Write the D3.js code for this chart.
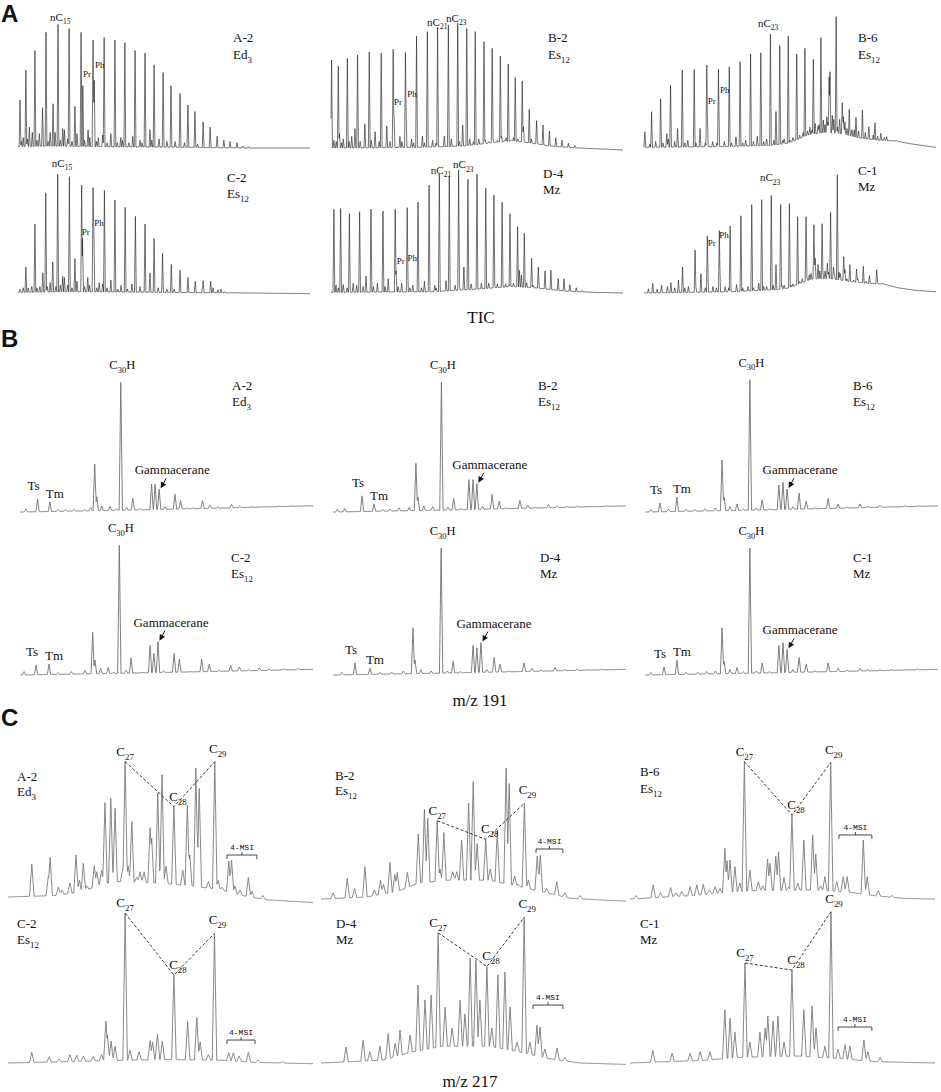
<!DOCTYPE html>
<html>
<head>
<meta charset="utf-8">
<script src="https://cdn.jsdelivr.net/npm/d3@7"></script>
<style>
body { margin: 0; background: #fff; }
text { font-family: "Liberation Serif", "Times New Roman", serif; fill: #111; }
.letter { font-family: "Liberation Sans", Arial, sans-serif; font-weight: bold; }
.msi { font-family: "Liberation Mono", monospace; }
</style>
</head>
<body>
<svg id="fig" width="941" height="1092"></svg>
<script>
// sample order: top row then bottom row of each block
var samples = ["A-2", "B-2", "B-6", "C-2", "D-4", "C-1"];
var units = [["Ed", "3"], ["Es", "12"], ["Es", "12"], ["Es", "12"], ["Mz", ""], ["Mz", ""]];
var blockLetters = ["A", "B", "C"];
var blockTitles = ["TIC", "m/z 191", "m/z 217"];

// ---- TIC: n-alkanes [retention %, abundance %]
var ticAlkanes = [
  [[0.7,37],[2.7,60],[5.8,75],[9.6,89],[13.7,95],[17.5,92],[21.6,89],[25.7,83],[29.5,85],[33.2,83],[36.6,81],[40.1,75],[43.5,73],[46.6,64],[49.7,58],[52.4,48],[55.5,42],[58.2,33],[60.6,28],[63.4,20],[65.8,16],[68.2,9],[70.5,6],[72.6,5],[75,4],[77,1.5],[79,1]],
  [[0.2,67.7],[2.5,63],[5.6,69],[9.1,71.5],[13.1,74],[17.2,73],[21.3,76],[25.5,73.5],[29.3,86],[33,89.5],[36.5,93],[40.2,94.6],[43.4,96],[46.5,92],[49.4,89.5],[52.4,81.8],[55.2,76.7],[58,70.8],[60.7,64.6],[63.1,54.4],[65.5,51.5],[67.9,29.8],[70.4,21],[72.6,17.7],[74.8,13],[77,8],[79.1,6],[81.3,3.6],[83.5,2]],
  [[0.3,12.5],[2.6,28],[5.7,37.7],[9.1,48.5],[13.1,60],[17.2,60.5],[21.5,63.8],[25.5,60.8],[29.2,62.5],[32.9,66.4],[36.5,72.3],[40,73.3],[43.3,87.7],[46.5,79],[49.4,86],[52.3,72.3],[55.1,76.7],[58,68.2],[60.6,85],[63.4,54.8],[63.7,58.7],[65.8,101],[67.9,34.8],[70.3,29.8],[72.6,23.6],[74.8,29.2],[77,16.4],[79.1,19.5],[81.1,11.3],[83.1,8.7],[85.3,4],[88,3]],
  [[0.7,3],[2.7,20],[5.8,53],[9.5,77],[13.6,91.5],[17.6,89.5],[21.8,83],[25.7,81],[29.6,79],[33.2,71.5],[36.7,66],[40.2,59],[43.5,53],[46.6,42],[49.5,30.5],[52.5,22],[55.5,17.5],[58.2,12],[60.7,9],[63.4,9.5],[66,9],[68.5,2.5],[70.8,1]],
  [[1,64.5],[3.3,65],[6.3,61],[9.8,62.5],[13.7,64.5],[17.8,63],[22,64.5],[26.1,65.6],[29.8,70],[33.6,83],[37.1,91.5],[40.5,90],[43.7,94.6],[46.9,87.5],[50,91.5],[53,80.5],[55.8,75.4],[58.6,69.8],[61.3,61],[63.9,51],[66.2,46],[68.7,26.7],[71,20],[73.3,17],[75.3,17.5],[77.8,11],[79.8,11],[81.8,6.5],[84,4],[86,2]],
  [[3,7.5],[6,6],[9.2,8],[13.2,20],[17.5,33],[21.7,44],[25.8,48],[29.5,51.6],[33.2,59.4],[36.9,68],[40.3,71.8],[43.6,75],[46.8,68],[49.8,68.7],[52.6,58.7],[55.5,58.7],[58.2,52.5],[61,53.3],[63.9,62],[66.2,91],[68.4,28],[70.5,21.8],[72.8,18.4],[75.1,20.5],[77.2,13.3],[79.7,18],[81.6,7.5],[84,4.5],[87.5,3.5]]
];
// pristane, phytane
var ticIso = [
  [[22.2,48],[26.1,52]],
  [[21.6,25],[25.7,31.5]],
  [[21.7,26.7],[25.6,34.4]],
  [[22.1,42],[26,47]],
  [[22.3,17],[26.2,21]],
  [[21.8,23],[25.9,28]]
];
// minor peaks
var ticMinor = [
  [[1.2,5],[1.8,8],[3.2,7],[3.9,16],[4.9,12],[6.5,6],[7.3,11],[8.4,31],[10.3,5],[11,12],[12,34],[12.7,12],[14.5,6],[15.3,15],[15.9,14],[17,7],[18.5,5],[19.5,32],[20.2,11],[22.8,6],[24,14],[24.6,8],[26.8,5],[27.5,8],[29,10],[30.5,4],[31.8,11],[34,4],[35.2,8],[35.8,6],[38,4],[39.3,9],[41.8,6],[42.5,4],[45.2,14],[45.8,6],[48.3,7],[51,5],[53.8,5],[57,4],[61.5,3]],
  [[1,6],[1.8,5],[2.9,11],[3.6,4],[4.2,7],[6.2,5],[7.1,9],[8.2,15],[10,5],[11.6,18.5],[13.8,6],[15.1,12.5],[16.5,5],[19.1,17],[20.2,5],[23.6,9],[24.3,5],[27.6,7],[28.3,4],[31.3,9],[32,4],[34.8,6],[36,4],[38.8,9],[41.2,7],[44,5],[45.1,17.7],[47.5,7],[48.8,5],[50.6,7],[52.8,6],[54,5],[55.5,7],[57,6],[58.4,9],[59.5,6],[60,8],[61.8,6],[62.5,8],[64,7],[65.9,16.4],[68.6,7],[70.8,4]],
  [[2,3],[4,5],[6.5,4],[7.8,11],[8.3,7],[10.5,5],[11.5,15],[14,4],[15,6],[17.8,4],[19.2,15],[21,4],[23.5,5],[25,4],[27.5,5],[30,4],[31.5,8.7],[33.8,4],[34.8,6],[37.5,5],[38.8,9],[41,5],[42,7],[44.5,6],[45.2,28],[47.5,6],[48,7],[50,6],[51,8],[53.3,10],[54.5,12],[56,13],[56.8,16],[57.5,14],[58.6,19],[59.6,17],[60,18],[61.4,21.5],[62,18],[62.6,24],[63,20],[64.5,25],[65,22],[66.3,16],[67,22],[68.3,24],[68.8,20],[69.5,15],[71.2,14],[72,14],[73.5,13],[75.8,12],[78.5,10],[80,9],[82.3,8],[86.5,6]],
  [[1.8,4],[3.5,4],[4.7,5],[6.5,4],[7.5,5],[8.5,15.5],[10,5],[11,8],[11.9,24],[13,5],[14.5,6],[15.3,13],[15.9,12],[17,6],[18.5,4],[19.5,26.5],[20.2,9],[22.8,5],[23.9,12],[24.5,6],[27,4],[27.8,8],[29,7],[30.5,4],[31.8,10],[34.2,3],[35.3,6],[37.5,3],[39,7],[41.8,5],[45.2,15.5],[48,4],[51,3],[53.5,3],[63.2,5],[66.8,4],[69.5,3]],
  [[1.7,6],[2.5,4],[4.2,6.5],[5.5,4],[7.6,7.5],[8.8,6],[11,5],[12,13],[14.5,5],[15.9,7.5],[18.5,5],[19.6,11],[23,5],[24.2,7.5],[27,4],[28,6],[31,4],[32,9],[35.5,6],[36,4],[39.4,9.5],[42.5,6],[44,5],[45.5,20],[48,7],[50,6],[51.5,7.5],[54,7.5],[56,6],[57,7],[59.8,7],[60.8,6],[62.5,7.5],[64.5,17.5],[65.2,14],[67,8],[69.2,6]],
  [[1.5,3],[4.5,3],[8,5],[10.5,4],[11.8,10],[14,4],[15.2,5],[17.8,4],[19.5,15],[21,4],[23.6,5],[24.8,4],[27.8,5],[29,4],[31.7,6.5],[33.8,4],[35.6,5],[37.5,4],[39.3,7.5],[41,5],[42,5],[44.2,6],[45.2,21.8],[47.2,6],[48,6],[50.3,6],[51,7],[53.3,9],[54.2,11],[55.8,12],[56.6,14],[57.2,15],[58.6,26.7],[59.6,22],[60.2,17],[61.2,18],[62,17],[62.8,23],[63.2,16],[64.9,20],[65.2,15],[66.8,16],[67.2,15],[68.8,18],[69.5,11],[70.5,13],[71.8,10],[73.2,11],[76,9],[80,8],[83,6]]
];
var ticBase = [
  [[0,1],[10,1.5],[30,1],[60,0.5],[80,0],[100,0]],
  [[0,0],[30,0.5],[45,1.5],[55,4],[62,5.5],[68,4],[75,1.5],[85,0],[100,-1.5]],
  [[0,0.5],[25,1],[43,2],[49,3.5],[53,7],[56,10],[62,12],[68,11],[73,8],[80,6],[86,5.5],[92,3],[100,0.5]],
  [[0,0.5],[20,1],[50,0.5],[80,0],[100,-0.5]],
  [[0,0.5],[35,1],[50,3],[62,5],[70,4],[80,1.5],[90,0.5],[100,0]],
  [[0,0],[30,1],[45,2.5],[50,4],[54,8],[58,11],[64,11],[70,9],[76,7.5],[82,7],[87,4],[93,2],[100,1]]
];
// labelled n-alkanes: [name, carbon number, label retention, label abundance]
var ticNc = [
  [["nC", "15", 11, 97.7]],
  [["nC", "21", 32.9, 93.8], ["nC", "23", 39.4, 97]],
  [["nC", "23", 39, 93]],
  [["nC", "15", 11.6, 97]],
  [["nC", "21", 34.2, 91.5], ["nC", "23", 41.8, 96]],
  [["nC", "23", 39.7, 86]]
];
var ticPrPh = [
  [[22.3,54.6],[26.4,61.5]],
  [[21.6,33],[26.1,39.5]],
  [[21.8,33.8],[26,42.3]],
  [[21.8,44.6],[26.1,51.5]],
  [[22.5,22.3],[26.2,24.6]],
  [[21.8,36],[25.8,42.5]]
];

// ---- m/z 191 terpanes
var hopPeaks = [
  [[2,2.2],[6,9.4],[10.2,7.4],[13,1.8],[15.5,1.8],[18.4,2],[22,1.8],[24.1,3.2],[25.5,35.5],[26.2,11.3],[27.9,4.5],[30.7,4],[33,2.2],[34.4,96],[36.4,3.5],[38.5,10.1],[41,2.5],[44.9,20.7],[46.1,20.7],[47.5,16.8],[49.5,4],[52.9,13.1],[54.8,8.4],[57,3],[59,3],[62.3,8.4],[64.8,5.2],[67.5,4],[72.2,5.7],[75,4.4],[79,3.8],[82.3,3.9],[85,4],[88.5,4.3],[93,4.6],[97,4.8]],
  [[1.5,2],[4,2.5],[9.9,12],[14,6],[17,2],[19.5,2.2],[22.5,3],[26,3.5],[28.3,36],[29,11],[31,4.5],[34,4],[37,96],[39.2,3.5],[41.2,10],[43.5,2.5],[46.4,24],[47.8,24],[49.1,21],[51,4],[54.3,13],[56.7,8],[59,3],[63.8,8.5],[66.5,5],[69,3.5],[73.5,5.5],[76.5,4.5],[80,4],[83.5,4.5],[88,4],[93,4.5]],
  [[2,2],[5.1,6.7],[8,2],[10.9,11],[14,2],[17,2],[20.5,2.5],[24,3],[26.3,38.5],[27,11],[29,4],[31.4,6],[33.5,2.5],[35.8,98],[38,3],[40,9],[42.5,2.5],[45.7,20],[47.1,22],[48.5,17],[50.5,4],[52.6,14],[55,8],[58,3],[62.5,10],[65.9,6],[69,3.5],[73.4,6],[76,4],[80.2,5],[84,4],[88.7,4.5],[93,4.5]],
  [[1.4,2.5],[5.5,7.4],[9.9,8],[13,1.8],[17.5,2.5],[22.2,3.5],[24.8,31.6],[25.6,11],[27.5,5],[30.1,5.5],[32,2],[33.9,96],[36.2,3.5],[37.9,12.8],[42,2],[44.4,22],[45.7,16],[47.1,24.7],[49,3],[52.6,16],[54.4,11.6],[58,2.5],[62,11.6],[64.6,8],[68,3.5],[71.9,7.4],[74.9,6],[78,4],[81.7,5.4],[85,4.5],[90,4.5],[95,4.8]],
  [[3,2],[7.5,9],[12.6,5],[16,2],[20,2.2],[24,3],[27.3,35],[28,11],[30,4],[33.5,3],[36.9,94],[39,3],[41,10],[43.5,2.5],[47.8,22],[49.1,20],[50.5,24],[52.5,4],[55,13],[57,8],[60,3],[65.2,9],[67.9,5],[71,3.5],[75.8,5.5],[79,4],[83.3,4.5],[87,4],[91.5,4.5]],
  [[2,2],[6.5,6],[10.9,11],[14,2],[18,2],[21,2.5],[24,3],[26.3,35],[27,10],[29,4],[31.4,5.5],[33.5,2.5],[35.8,94],[38,3],[40,9],[42.5,2.5],[45.7,22],[47.1,24],[48.5,19],[50.5,4],[52.6,13],[55,8],[58,3],[62.5,9],[65.9,5],[69,3.5],[73.4,5],[76,4],[80.2,4],[84,4],[88.7,4],[93,4.5]]
];
var hopBase = [
  [[0,0],[40,1.5],[70,3],[100,4.6]],
  [[0,0],[40,1.5],[70,3],[100,4.5]],
  [[0,0],[40,1.5],[70,3],[100,4.5]],
  [[0,0],[40,1.5],[70,2.8],[100,4.2]],
  [[0,0],[40,1.5],[70,2.8],[100,4.2]],
  [[0,0],[40,1.5],[70,2.8],[100,4.2]]
];
// retention of Ts, Tm, C30 hopane, gammacerane
var hopTs = [6, 9.9, 5.1, 5.5, 7.5, 6.5];
var hopTm = [10.2, 14, 10.9, 9.9, 12.6, 10.9];
var hopC30 = [34.4, 37, 35.8, 33.9, 36.9, 35.8];
var hopGam = [47.5, 49.1, 48.5, 47.1, 50.5, 48.5];

// ---- m/z 217 steranes
var sterPeaks = [
  [[7.8,23.6],[13.2,14.5],[13.8,28.4],[16.5,7],[17.7,5],[20.3,10],[22.3,30],[23.4,12],[24.7,24],[25.8,8],[28.3,22.4],[29.1,18],[30.7,19],[31.8,67.4],[33.7,70.5],[35.1,63.4],[37.6,20],[38.4,96.7],[39.4,22],[40.6,53.8],[42.2,14],[43.3,18],[44.6,18],[46.6,49.5],[47.1,42],[49.1,74],[50.5,87.4],[51.8,22],[54.4,64.5],[57.3,19],[58.8,65.7],[59.6,30],[61.6,92],[62.7,77.6],[65.7,11],[67.8,96.7],[68.9,12],[70.2,7],[72.4,25.7],[73.3,26.4],[74.4,8],[76.1,5],[78.8,14],[80,4],[83.6,1]],
  [[4,3],[8.6,13.3],[11,6],[14.4,21.7],[17.5,5],[19.5,12],[20.5,9],[22.6,24.8],[24.2,16],[25,17.4],[28.3,17.6],[31.9,45],[33.9,62.6],[35,56.2],[38.1,54.5],[39,20],[40.3,46],[43.2,18],[44.5,18],[46.1,40.7],[48.4,67],[49.9,82.4],[51.2,38.3],[54,41.2],[55.5,20],[57.8,47.9],[60.7,92],[61.7,81],[63.5,15],[64.7,9],[66.7,67],[68,12],[70.9,29.3],[71.9,29.8],[74,6],[77.3,11],[80,3],[85,1]],
  [[2,1],[7.6,8.6],[10,3],[13.3,6.7],[15,3],[17,4],[19.7,7.4],[21.9,8.6],[24,9],[26,5],[27.9,7.4],[29.5,6],[31.1,34.8],[31.8,26],[32.8,26.4],[34.4,21.7],[36,10],[37.5,96.7],[39.3,19.3],[42.1,11],[43.5,8],[45.1,27],[45.9,24],[47.8,29.3],[48.7,32.4],[50.5,14],[52,7],[53.1,58.6],[55,10],[57,40.7],[59.9,44.3],[60.9,30.7],[62.5,8],[63.9,14.5],[65.8,96],[67.8,11],[69.9,14.5],[71.2,14.5],[76.5,40.7],[77.8,14.5],[81.4,4.5],[86,1]],
  [[7.8,7.6],[13.5,4.5],[16.8,3],[20.3,6],[22.5,5.5],[24.7,5],[27.9,4.5],[30.7,6],[32.1,30],[32.6,20],[33.8,15.7],[35.1,12],[38.4,107],[40,9],[43,8],[46.6,16],[47.4,15],[49,20.7],[50.6,15.7],[54.4,62.9],[58.9,29.5],[61.9,32.6],[63,15.2],[65.7,6],[67.7,92.6],[72.4,7.3],[73.9,7.3],[75.8,5],[78.8,7.6],[82,2],[90,1]],
  [[8.2,11.4],[13.8,16.4],[16,8],[19.3,12],[22,21],[24.3,14],[25.9,23.6],[29.2,20],[31.8,55.7],[34.1,45],[36.1,48.6],[38.4,93],[40.7,40],[43,25],[45.6,45],[47.2,35],[48.9,75],[50.8,73.6],[52.1,45],[54.4,69],[56,25],[58,63],[60.3,65],[62,40],[64.3,15],[66.6,104],[68.5,15],[70.8,27],[71.8,25.7],[73.4,10],[77.4,10.7],[80,4]],
  [[7.5,9],[13.8,7],[19.7,7],[23,8],[26.2,8],[31.1,38],[32.8,32],[34.4,22],[37.7,71.4],[39.3,15],[42.6,22],[44.3,25],[45.2,33.6],[46.9,30],[48.5,33.6],[50.5,15],[53.1,66.4],[57,38],[59.7,40.7],[61,25],[63.9,12],[65.9,108],[68.2,10],[70.5,13],[72.1,12],[76.7,16.4],[78,8],[82,4]]
];
var sterBase = [
  [[0,0],[15,1],[25,4],[30,9],[36,11],[50,10],[60,8],[70,5],[77,1],[85,-2],[100,-4]],
  [[0,-1.5],[15,0],[25,4],[32,10],[42,12],[55,12],[62,9],[70,5],[76,2],[82,-1],[100,-3]],
  [[0,-1.5],[20,1],[30,3],[40,4.5],[60,5],[72,3.5],[80,1],[90,-1],[100,-1.5]],
  [[0,0],[30,1.5],[50,2.5],[70,2],[80,0.5],[100,-0.5]],
  [[0,0],[20,2],[30,8],[40,12],[55,12],[65,8],[75,3],[85,0],[100,-1]],
  [[0,0],[25,2],[35,4],[55,5],[70,3],[80,1],[100,0]]
];
var sterC27 = [38.4, 38.1, 37.5, 38.4, 38.4, 37.7];
var sterC28 = [54.4, 54, 53.1, 54.4, 54.4, 53.1];
var sterC29 = [67.8, 66.7, 65.8, 67.7, 66.6, 65.9];
// 4-methylsteranes bracket: [start, end, level]
var sterMsi = [[71.8,81.6,30],[70.5,79.3,34.3],[68.5,79.3,44.3],[71.8,81,16.4],[69.5,79.3,41.4],[68.2,79.3,25.7]];

// ---- layout
var ticGeo = {x0: [18, 331, 644], w: 292, base: [148, 293], h: 130};
var hopGeo = {x0: [20, 333, 645], w: 293, base: [512, 675], h: 135};
var sterGeo = {x0: [8, 321, 630], w: 305, base: [897, 1063], h: 140};
var ticLab = [[233,42,59],[548,42,59],[858,42,59],[227,182,198],[543,178,194],[858,175,191]];
var hopLab = [[232,390,406],[538,390,406],[853,390,406],[231,562,578],[540,562,578],[853,562,578]];
var sterLab = [[17,781,796],[335,780,795],[640,776,793],[17,928,944],[336,928,944],[640,928,944]];

var svg = d3.select("#fig");

var scalesFor = function(geo, i){
    var col = i % 3, row = Math.floor(i / 3);
    return {
        x: d3.scaleLinear().domain([0, 100]).range([geo.x0[col], geo.x0[col] + geo.w]),
        y: d3.scaleLinear().domain([0, 100]).range([geo.base[row], geo.base[row] - geo.h])
    };
}

var baseAt = function(base, t){
    for (var i = 1; i < base.length; i++) {
        if (t <= base[i][0]) {
            var a = base[i - 1], b = base[i];
            return a[1] + (b[1] - a[1]) * (t - a[0]) / (b[0] - a[0]);
        }
    }
    return base[base.length - 1][1];
}

// chromatogram outline: baseline with a narrow peak at every listed retention
var trace = function(peaks, base, w){
    var ts = d3.range(0, 100.001, 0.25);
    peaks.forEach(function(p){ ts.push(p[0] - w, p[0], p[0] + w); });
    ts = ts.filter(function(t){ return t >= 0 && t <= 100; }).sort(d3.ascending);
    return ts.map(function(t){
        var b = baseAt(base, t), v = b;
        peaks.forEach(function(p){
            var d = Math.abs(t - p[0]);
            if (d < w) {
                var hgt = p[1] - baseAt(base, p[0]);
                if (hgt > 0) v = Math.max(v, b + hgt * (1 - d / w));
            }
        });
        return [t, v];
    });
}

var drawTrace = function(sc, pts, color, width){
    svg.append("path")
        .datum(pts)
        .attr("fill", "none")
        .attr("stroke", color)
        .attr("stroke-width", width)
        .attr("stroke-linejoin", "round")
        .attr("d", d3.line()
            .x(function(d){ return sc.x(d[0]); })
            .y(function(d){ return sc.y(d[1]); }));
}

// text with optional subscript and trailing part
var subText = function(x, y, main, sub, size, anchor, tail, cls){
    var t = svg.append("text")
        .attr("x", x).attr("y", y)
        .attr("font-size", size)
        .attr("text-anchor", anchor || "start");
    if (cls) t.attr("class", cls);
    t.append("tspan").text(main);
    if (sub) t.append("tspan").attr("font-size", size * 0.68).attr("dy", size * 0.3).text(sub);
    if (tail) t.append("tspan").attr("dy", -size * 0.3).text(tail);
    return t;
}

var apexOf = function(peaks, rt, sc){
    var p = peaks.reduce(function(a, b){ return Math.abs(b[0] - rt) < Math.abs(a[0] - rt) ? b : a; });
    return [sc.x(p[0]), sc.y(p[1])];
}

var sampleLabel = function(i, pos){
    subText(pos[0], pos[1], samples[i], "", 13);
    subText(pos[0], pos[2], units[i][0], units[i][1], 13);
}

// ---- block letters and titles
svg.append("text").attr("class", "letter").attr("x", 1).attr("y", 22).attr("font-size", 24).text(blockLetters[0]);
svg.append("text").attr("class", "letter").attr("x", 1).attr("y", 347).attr("font-size", 24).text(blockLetters[1]);
svg.append("text").attr("class", "letter").attr("x", 1).attr("y", 726).attr("font-size", 24).text(blockLetters[2]);
svg.append("text").attr("x", 481).attr("y", 323).attr("font-size", 17).attr("text-anchor", "middle").text(blockTitles[0]);
svg.append("text").attr("x", 480).attr("y", 706).attr("font-size", 17).attr("text-anchor", "middle").text(blockTitles[1]);
svg.append("text").attr("x", 470).attr("y", 1087).attr("font-size", 17).attr("text-anchor", "middle").text(blockTitles[2]);

// ---- A: TIC
samples.forEach(function(s, i){
    var sc = scalesFor(ticGeo, i);
    var peaks = ticAlkanes[i].concat(ticIso[i], ticMinor[i]);
    drawTrace(sc, trace(peaks, ticBase[i], 0.3), "#262626", 0.65);
    ticNc[i].forEach(function(n){
        subText(sc.x(n[2]), sc.y(n[3]), n[0], n[1], 11);
    });
    svg.append("text").attr("x", sc.x(ticPrPh[i][0][0])).attr("y", sc.y(ticPrPh[i][0][1])).attr("font-size", 9).text("Pr");
    svg.append("text").attr("x", sc.x(ticPrPh[i][1][0])).attr("y", sc.y(ticPrPh[i][1][1])).attr("font-size", 9).text("Ph");
    sampleLabel(i, ticLab[i]);
});

// ---- B: m/z 191
samples.forEach(function(s, i){
    var sc = scalesFor(hopGeo, i);
    drawTrace(sc, trace(hopPeaks[i], hopBase[i], 0.57), "#707070", 0.9);
    var c30 = apexOf(hopPeaks[i], hopC30[i], sc);
    subText(c30[0] + 1.5, c30[1] - 13, "C", "30", 12.5, "middle", "H");
    var ts = apexOf(hopPeaks[i], hopTs[i], sc);
    svg.append("text").attr("x", ts[0] - 4).attr("y", ts[1] - 9).attr("font-size", 13).attr("text-anchor", "middle").text("Ts");
    var tm = apexOf(hopPeaks[i], hopTm[i], sc);
    svg.append("text").attr("x", tm[0] + 5).attr("y", tm[1] - 4).attr("font-size", 13).attr("text-anchor", "middle").text("Tm");
    var g = apexOf(hopPeaks[i], hopGam[i], sc);
    svg.append("text").attr("x", g[0] + 13).attr("y", g[1] - 15).attr("font-size", 13).attr("text-anchor", "middle").text("Gammacerane");
    var tx = g[0] + 7, ty = g[1] - 11, hx = g[0] + 1.5, hy = g[1] - 1;
    var dx = hx - tx, dy = hy - ty, len = Math.sqrt(dx * dx + dy * dy);
    var ux = dx / len, uy = dy / len;
    svg.append("line").attr("x1", tx).attr("y1", ty).attr("x2", hx - ux * 4).attr("y2", hy - uy * 4)
        .attr("stroke", "#111").attr("stroke-width", 1);
    svg.append("path")
        .attr("d", "M" + hx + "," + hy + "L" + (hx - ux * 6 - uy * 3) + "," + (hy - uy * 6 + ux * 3) +
              "L" + (hx - ux * 6 + uy * 3) + "," + (hy - uy * 6 - ux * 3) + "Z")
        .attr("fill", "#111");
    sampleLabel(i, hopLab[i]);
});

// ---- C: m/z 217
samples.forEach(function(s, i){
    var sc = scalesFor(sterGeo, i);
    drawTrace(sc, trace(sterPeaks[i], sterBase[i], 0.75), "#7a7a7a", 0.9);
    var a = apexOf(sterPeaks[i], sterC27[i], sc);
    var b = apexOf(sterPeaks[i], sterC28[i], sc);
    var c = apexOf(sterPeaks[i], sterC29[i], sc);
    svg.append("path")
        .attr("d", "M" + a[0] + "," + a[1] + "L" + b[0] + "," + b[1] + "L" + c[0] + "," + c[1])
        .attr("fill", "none").attr("stroke", "#222").attr("stroke-width", 0.9)
        .attr("stroke-dasharray", "3,2");
    subText(a[0], a[1] - 6, "C", "27", 13, "middle");
    subText(b[0] + 4, b[1] - 6, "C", "28", 13, "middle");
    subText(c[0] + 3, c[1] - 9, "C", "29", 13, "middle");
    var m = sterMsi[i];
    var x1 = sc.x(m[0]), x2 = sc.x(m[1]), y = sc.y(m[2]), xm = (x1 + x2) / 2;
    svg.append("path")
        .attr("d", "M" + x1 + "," + (y + 4) + "L" + x1 + "," + y + "L" + x2 + "," + y + "L" + x2 + "," + (y + 4) +
              "M" + xm + "," + y + "L" + xm + "," + (y - 3))
        .attr("fill", "none").attr("stroke", "#333").attr("stroke-width", 0.9);
    svg.append("text").attr("class", "msi").attr("x", xm).attr("y", y - 5).attr("font-size", 8)
        .attr("text-anchor", "middle").text("4-MSI");
    sampleLabel(i, sterLab[i]);
});
</script>
</body>
</html>
